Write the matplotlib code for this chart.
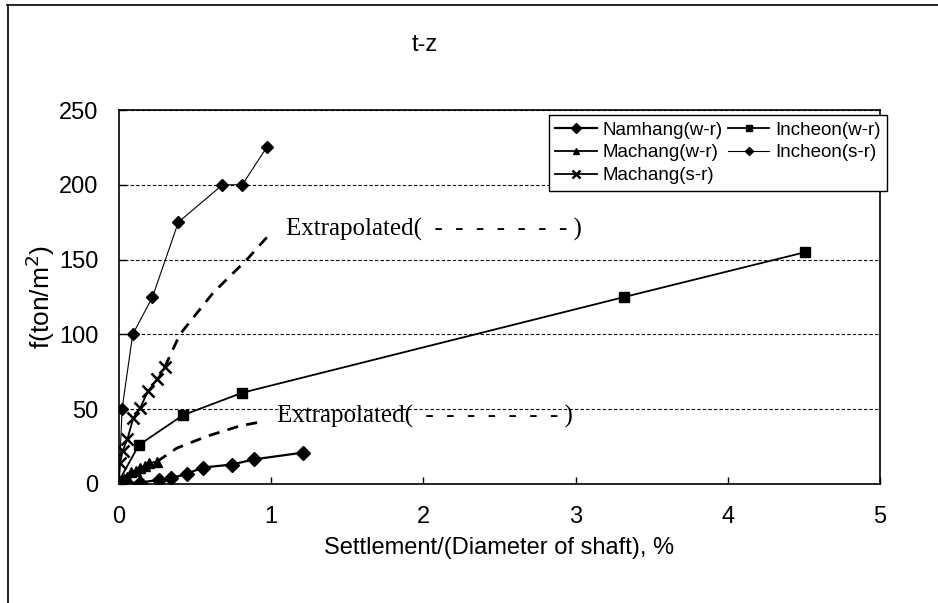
import matplotlib
matplotlib.use("Agg")
import matplotlib.pyplot as plt
from matplotlib.lines import Line2D

plt.rcParams['font.family'] = ['Liberation Sans', 'DejaVu Sans']

# ---- data ----
namhang_wr_x = [0.0, 0.14, 0.26, 0.34, 0.45, 0.55, 0.74, 0.89, 1.21]
namhang_wr_y = [0.5, 1, 2.7, 3.8, 7, 11, 13, 16.5, 21]

incheon_wr_x = [0.0, 0.13, 0.42, 0.81, 3.32, 4.51]
incheon_wr_y = [2, 26, 46, 61, 125, 155]

machang_wr_x = [0.0, 0.02, 0.05, 0.08, 0.11, 0.14, 0.17, 0.2, 0.25]
machang_wr_y = [0, 3, 5, 8, 9, 11, 12, 14, 15]

incheon_sr_x = [0.0, 0.02, 0.09, 0.22, 0.39, 0.68, 0.81, 0.97]
incheon_sr_y = [0, 50, 100, 125, 175, 200, 200, 225]

machang_sr_x = [0.0, 0.007, 0.024, 0.055, 0.094, 0.14, 0.19, 0.25, 0.30]
machang_sr_y = [3, 14, 22, 30, 44, 51, 62, 70, 78]

extrap_upper_x = [0.30, 0.40, 0.62, 0.84, 0.99]
extrap_upper_y = [78, 100, 128, 150, 167]

extrap_lower_x = [0.25, 0.38, 0.58, 0.80, 0.96]
extrap_lower_y = [15, 24, 32, 39, 42]

x_ticks = [0, 1, 2, 3, 4, 5]
y_ticks = [0, 50, 100, 150, 200, 250]

# ---- figure ----
fig = plt.figure(figsize=(9.38, 6.03), dpi=100)
ax = fig.add_axes([119/938, 1-484/603, (880-119)/938, (484-110)/603])

l_nam, = ax.plot(namhang_wr_x, namhang_wr_y, color='black', lw=1.6, marker='D', ms=7, label='Namhang(w-r)')
l_inw, = ax.plot(incheon_wr_x, incheon_wr_y, color='black', lw=1.3, marker='s', ms=7, label='Incheon(w-r)')
l_maw, = ax.plot(machang_wr_x, machang_wr_y, color='black', lw=1.3, marker='^', ms=7, label='Machang(w-r)')
l_ins, = ax.plot(incheon_sr_x, incheon_sr_y, color='black', lw=0.8, marker='D', ms=6, label='Incheon(s-r)')
l_mas, = ax.plot(machang_sr_x, machang_sr_y, color='black', lw=1.3, marker='x', ms=8, mew=1.8, label='Machang(s-r)')

ax.plot(extrap_upper_x, extrap_upper_y, color='black', lw=2.0, ls=(0, (4, 3)))
ax.plot(extrap_lower_x, extrap_lower_y, color='black', lw=2.0, ls=(0, (4, 3)))

ax.text(1.10, 170, 'Extrapolated(  -  -  -  -  -  -  - )', family='Liberation Serif', fontsize=18, va='center', ha='left')
ax.text(1.04, 45, 'Extrapolated(  -  -  -  -  -  -  - )', family='Liberation Serif', fontsize=18, va='center', ha='left')

ax.set_xlim(0, 5)
ax.set_ylim(0, 250)
ax.set_xticks(x_ticks)
ax.set_yticks(y_ticks)
ax.set_xticklabels([str(t) for t in x_ticks])
ax.set_yticklabels([str(t) for t in y_ticks])
ax.tick_params(axis='both', direction='in', labelsize=17, length=5, width=1)
ax.tick_params(axis='x', pad=16)
ax.tick_params(axis='y', pad=15)
ax.yaxis.grid(True, color='black', ls=(0, (3, 2)), lw=0.8)
ax.set_axisbelow(True)
for s in ax.spines.values():
    s.set_linewidth(1.2)

ax.set_xlabel('Settlement/(Diameter of shaft), %', fontsize=17, labelpad=6)
ax.set_ylabel('f(ton/m$^2$)', fontsize=19)
ax.yaxis.set_label_coords(-0.081, 0.5)
fig.text(425/938, 1-45/603, 't-z', fontsize=17, ha='center', va='center')

leg = ax.legend(handles=[l_nam, l_maw, l_mas, l_inw, l_ins], ncol=2, loc='upper right',
                bbox_to_anchor=((887-119)/761, (484-115)/374), borderaxespad=0,
                fontsize=13.5, frameon=True, fancybox=False,
                edgecolor='black', framealpha=1, handlelength=2.2, handletextpad=0.3,
                columnspacing=0.3, borderpad=0.35, labelspacing=0.3, markerscale=0.7)
leg.get_frame().set_linewidth(1.0)

# outer border lines (top and left)
fig.add_artist(Line2D([7/938, 1.0], [1-5/603, 1-5/603], transform=fig.transFigure, color='black', lw=1.2))
fig.add_artist(Line2D([8/938, 8/938], [0, 1-5/603], transform=fig.transFigure, color='black', lw=1.2))

fig.savefig('out.png', dpi=100)
